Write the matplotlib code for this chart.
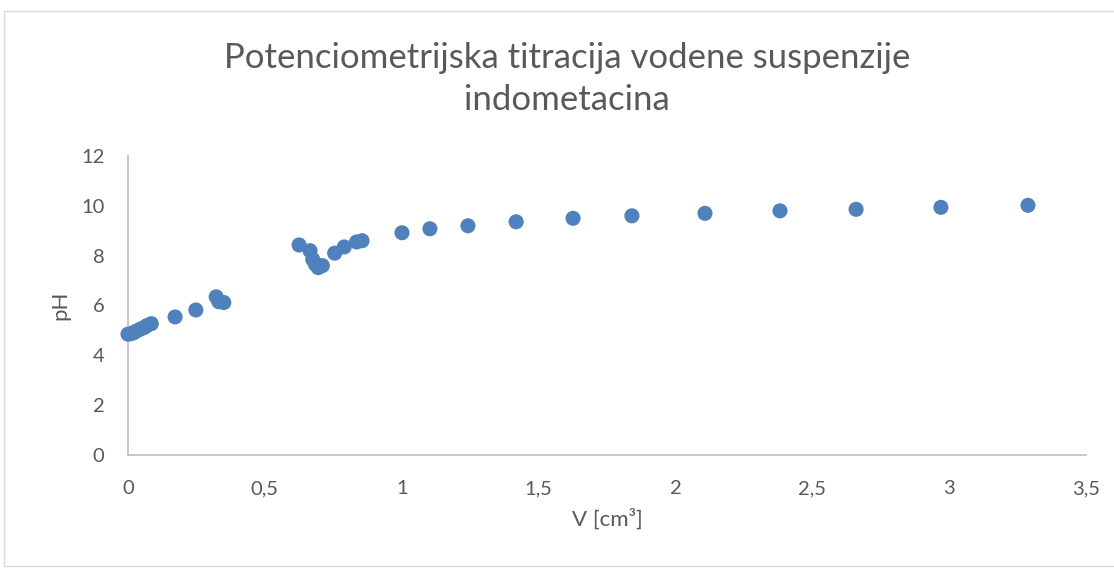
import matplotlib
matplotlib.use("Agg")
import matplotlib.pyplot as plt
from matplotlib.patches import Rectangle

# Data
volume_cm3 = [0.0, 0.01, 0.02, 0.03, 0.045, 0.06, 0.07, 0.085,
              0.172, 0.248, 0.322, 0.332, 0.35,
              0.625, 0.665, 0.675, 0.685, 0.695, 0.71, 0.755, 0.79, 0.835, 0.855,
              1.001, 1.103, 1.242, 1.418, 1.626, 1.841,
              2.108, 2.382, 2.66, 2.97, 3.288]
ph_values = [4.85, 4.87, 4.9, 4.97, 5.05, 5.12, 5.2, 5.27,
             5.54, 5.82, 6.35, 6.15, 6.12,
             8.43, 8.2, 7.85, 7.65, 7.52, 7.6, 8.1, 8.35, 8.55, 8.6,
             8.92, 9.08, 9.2, 9.36, 9.5, 9.6,
             9.7, 9.8, 9.86, 9.94, 10.02]
x_ticks = [0, 0.5, 1, 1.5, 2, 2.5, 3, 3.5]
x_tick_labels = ["0", "0,5", "1", "1,5", "2", "2,5", "3", "3,5"]
y_ticks = [0, 2, 4, 6, 8, 10, 12]
y_tick_labels = ["0", "2", "4", "6", "8", "10", "12"]

title_text = "Potenciometrijska titracija vodene suspenzije\nindometacina"
x_label = "V [cm³]"
y_label = "pH"

text_color = "#595959"
marker_color = "#4F81BD"
font = ["Lato", "DejaVu Sans"]

fig = plt.figure(figsize=(11.14, 5.68), dpi=100)
fig.patches.append(Rectangle((4 / 1114, 2 / 568), 1.0, 1 - 13 / 568, transform=fig.transFigure,
                             fill=False, edgecolor="#D9D9D9", linewidth=1.0))

ax = fig.add_axes([128 / 1114, 1 - 455 / 568, (1086 - 128) / 1114, (455 - 156) / 568])
ax.scatter(volume_cm3, ph_values, s=118, color=marker_color, edgecolors="none", zorder=3, clip_on=False)

ax.set_xlim(0, 3.5)
ax.set_ylim(0, 12)
ax.set_xticks(x_ticks)
ax.set_xticklabels(x_tick_labels)
ax.set_yticks(y_ticks)
ax.set_yticklabels(y_tick_labels)
ax.tick_params(axis="both", length=0, labelsize=14.5, labelcolor=text_color)
ax.tick_params(axis="x", pad=18)
ax.tick_params(axis="y", pad=17)
for lbl in ax.get_xticklabels() + ax.get_yticklabels():
    lbl.set_fontfamily(font)

for side in ["top", "right"]:
    ax.spines[side].set_visible(False)
for side in ["left", "bottom"]:
    ax.spines[side].set_color("#BFBFBF")
    ax.spines[side].set_linewidth(1.2)

ax.set_xlabel(x_label, fontsize=16, color=text_color, fontfamily=font, labelpad=8)
ax.set_ylabel(y_label, fontsize=16, color=text_color, fontfamily=font, labelpad=8)

fig.text(567 / 1114, 1 - 79 / 568, title_text, ha="center", va="center", fontsize=25,
         color=text_color, fontfamily=font, linespacing=1.36)

fig.savefig("out.png", dpi=100)
